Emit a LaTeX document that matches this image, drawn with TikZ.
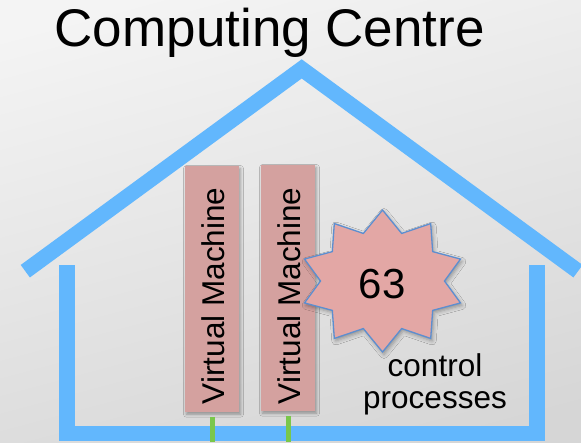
\documentclass[tikz,border=0pt]{standalone}
\usepackage{fontspec}
\setmainfont{Liberation Sans}
\usetikzlibrary{shadows.blur}
\definecolor{wallblue}{RGB}{98,183,253}
\definecolor{vmpink}{RGB}{212,161,159}
\definecolor{starpink}{RGB}{227,167,165}
\definecolor{staredge}{RGB}{92,142,208}
\definecolor{cablegreen}{RGB}{122,199,75}
\definecolor{bgtop}{RGB}{244,244,244}
\definecolor{bgbottom}{RGB}{214,214,214}
\begin{document}
\begin{tikzpicture}[x=1pt,y=-1pt,
  wall/.style={draw=wallblue, line width=15.5pt, miter limit=10, line join=miter},
  vmbox/.style={fill=vmpink, inner sep=0pt, minimum width=54pt, minimum height=245.7pt,
    blur shadow={shadow xshift=1.5pt, shadow yshift=-2.5pt, shadow blur radius=3pt, shadow opacity=35}},
  vmtext/.style={rotate=90, inner sep=0pt, font=\fontsize{31.5}{36}\selectfont},
  starstyle/.style={fill=starpink, draw=staredge, line width=1.3pt, line join=miter,
    blur shadow={shadow xshift=1.5pt, shadow yshift=-2.5pt, shadow blur radius=4pt, shadow opacity=35}},
  cable/.style={draw=cablegreen, line width=5pt},
  bigtext/.style={inner sep=0pt}
]
\useasboundingbox (0,0) rectangle (581,442);
\shade[top color=bgtop, bottom color=bgbottom, shading angle=15] (-20,-20) rectangle (601,462);

% house
\draw[wall] (25.3,271.2) -- (301.7,68.9) -- (578,271.2);
\draw[wall] (66.9,265) -- (66.9,433.5) -- (537.2,433.5) -- (537.2,265);

% title
\node[bigtext, anchor=base west, font=\fontsize{53}{60}\selectfont] (title) at (54.5,46.7) {Computing Centre};

% virtual machines
\node[vmbox] (vm1) at (212,288.85) {};
\node[vmbox] (vm2) at (288,287.85) {};
\coordinate (g1) at (212,442);
\coordinate (g2) at (288,442);
\draw[cable] ([yshift=-5pt]vm1.south) -- (g1);
\draw[cable] ([yshift=-5pt]vm2.south) -- (g2);
\node[vmtext] (vm1t) at (213.3,295.8) {Virtual Machine};
\node[vmtext] (vm2t) at (289.5,295.8) {Virtual Machine};

% star
\coordinate (sc) at (382.5,281);
\draw[starstyle] ({382.5+82*cos(90)},{281-71*sin(90)})
  \foreach \i in {1,...,19} { -- ({382.5+(mod(\i,2)==0 ? 82 : 62)*cos(90+18*\i)},{281-(mod(\i,2)==0 ? 71 : 50)*sin(90+18*\i)}) } -- cycle;
\node[bigtext, font=\fontsize{42}{48}\selectfont] (n63) at (382.2,283.7) {63};

\node[bigtext, anchor=north, align=center, font=\fontsize{31.5}{32.3}\selectfont] (cp) at (435,353.3) {control\\processes};
\end{tikzpicture}
\end{document}
